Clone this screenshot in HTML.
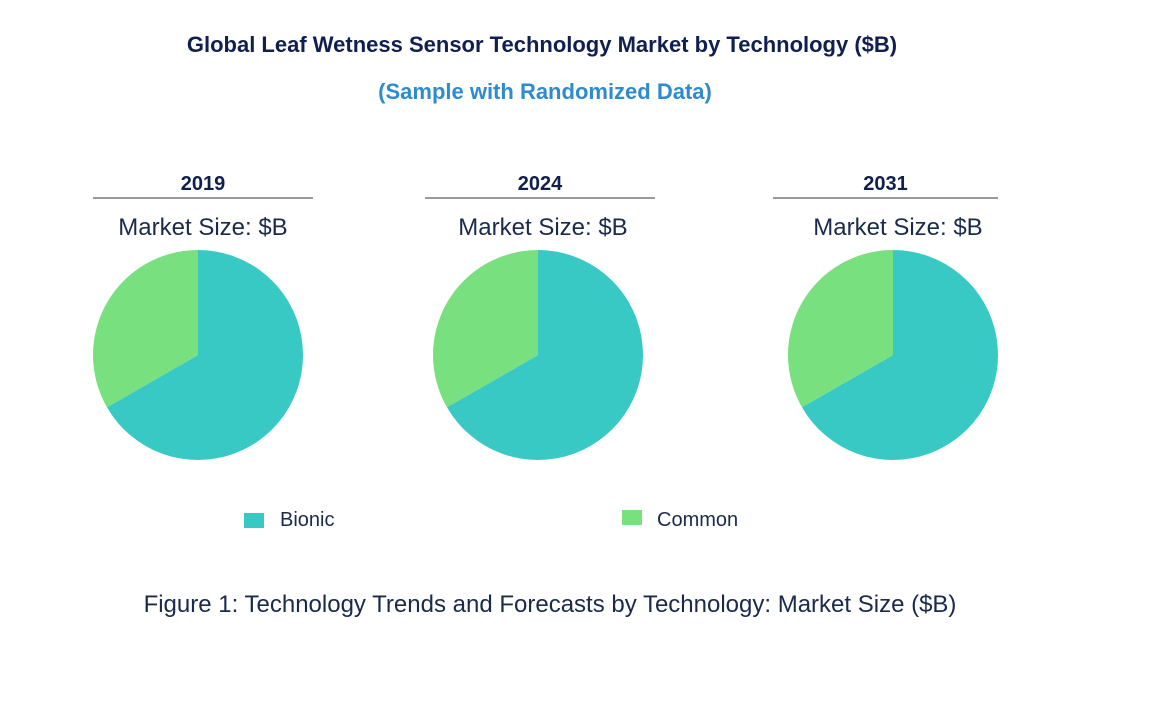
<!DOCTYPE html>
<html><head><meta charset="utf-8"><style>
body{margin:0;width:1170px;height:711px;background:#fff;font-family:"Liberation Sans",Arial,sans-serif;overflow:hidden}
</style></head><body>
<svg width="1170" height="711">
<text x="542" y="52" text-anchor="middle" font-size="22" font-weight="bold" fill="#0f1f4f">Global Leaf Wetness Sensor Technology Market by  Technology ($B)</text>
<text x="545" y="99" text-anchor="middle" font-size="22" font-weight="bold" fill="#2e8bd0">(Sample with Randomized Data)</text>
<g id="pies"></g>
<rect x="244" y="513" width="20" height="15" fill="#38c9c5"/>
<text x="280" y="526" font-size="20" fill="#1a2a4a">Bionic</text>
<rect x="622" y="510" width="20" height="15" fill="#78e07e"/>
<text x="657" y="526" font-size="20" fill="#1a2a4a">Common</text>
<text x="550" y="612" text-anchor="middle" font-size="24" fill="#1a2a4a">Figure 1: Technology Trends and Forecasts by Technology: Market Size ($B)</text>
</svg>
<script>
const years=["2019","2024","2031"];
const bionic=[66.7,66.7,66.7];
const common=[33.3,33.3,33.3];
const centersX=[198,538,893];
const lineX=[[93,313],[425,655],[773,998]];
const g=document.getElementById('pies');
const ns="http://www.w3.org/2000/svg";
function mk(t,a){const e=document.createElementNS(ns,t);for(const k in a)e.setAttribute(k,a[k]);g.appendChild(e);return e;}
function pt(cx,cy,r,deg){const a=(deg-90)*Math.PI/180;return [cx+r*Math.cos(a),cy+r*Math.sin(a)];}
function arc(cx,cy,r,a0,a1){const p0=pt(cx,cy,r,a0),p1=pt(cx,cy,r,a1);const l=(a1-a0)>180?1:0;return `M${cx},${cy}L${p0[0]},${p0[1]}A${r},${r} 0 ${l} 1 ${p1[0]},${p1[1]}Z`;}
years.forEach((y,i)=>{
 const cx=centersX[i],cy=355,r=105;
 const t=mk('text',{x:(lineX[i][0]+lineX[i][1])/2,y:190,'text-anchor':'middle','font-size':20,'font-weight':'bold',fill:'#0f1f4f'});t.textContent=y;
 
 
 const l=mk('line',{x1:lineX[i][0],x2:lineX[i][1],y1:198,y2:198,stroke:'#333','stroke-width':1});
 
 
 const m=mk('text',{x:cx+5,y:235,'text-anchor':'middle','font-size':24,fill:'#1a2a4a'});m.textContent='Market Size: $B';
 
 
 const tot=bionic[i]+common[i];const b=bionic[i]/tot*360;
 const p1=mk('path',{d:arc(cx,cy,r,0,b),fill:'#38c9c5'});
 
 
 const p2=mk('path',{d:arc(cx,cy,r,b,360),fill:'#78e07e'});
 
 
});
</script>
</body></html>
